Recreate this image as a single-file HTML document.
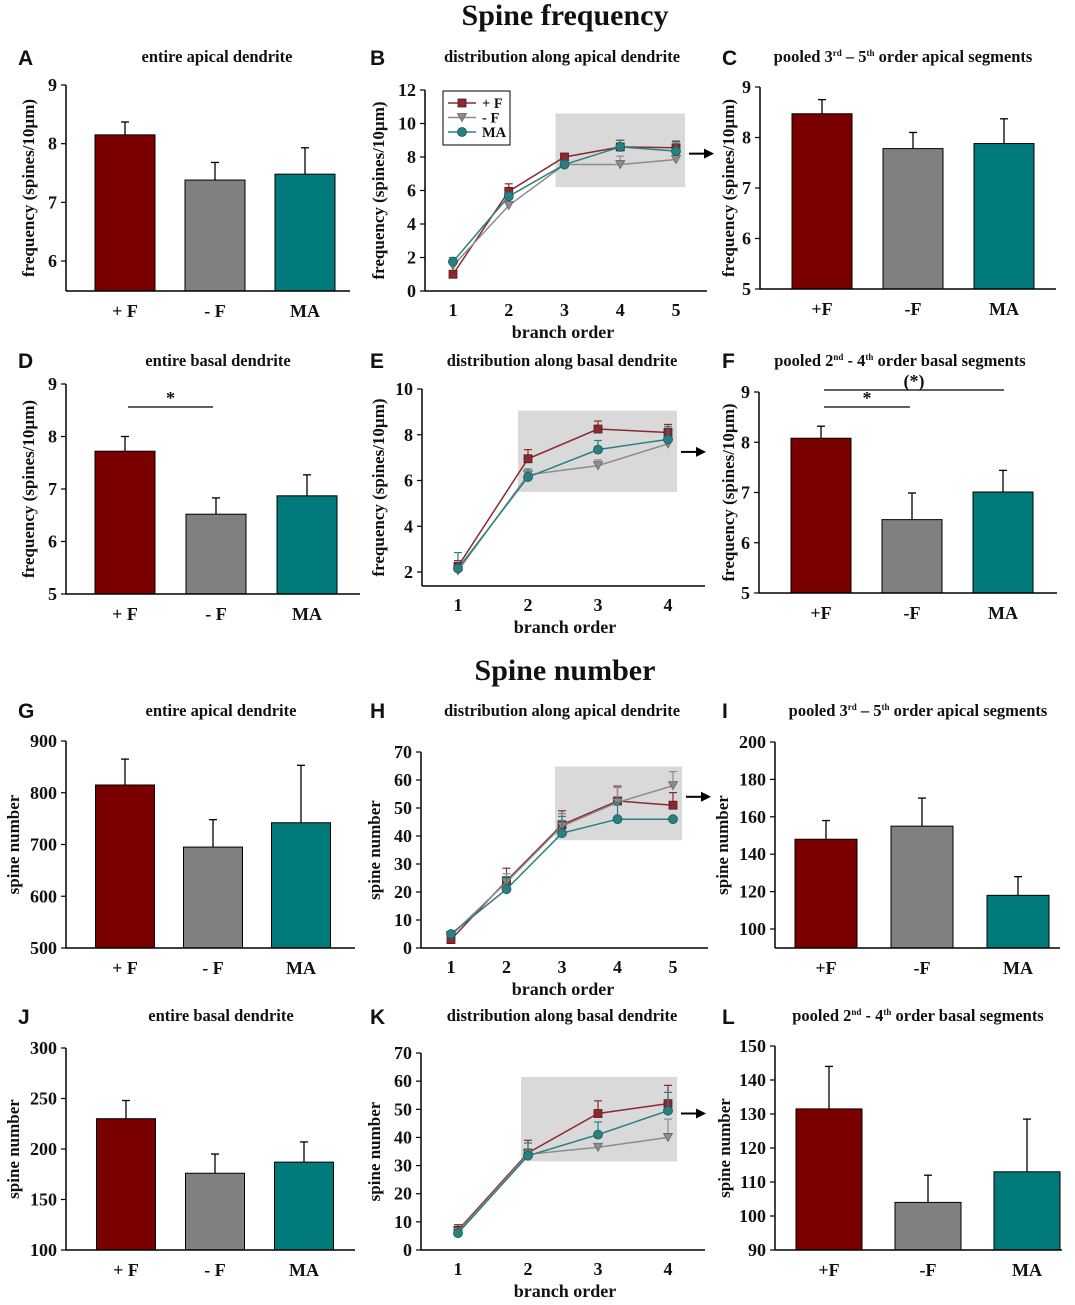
<!DOCTYPE html>
<html><head><meta charset="utf-8"><style>
body{margin:0;background:#fff;}
svg text{font-family:"Liberation Serif",serif;font-weight:bold;fill:#111;}
.lt{font-family:"Liberation Sans",sans-serif!important;}
</style></head><body>
<svg id="fig" width="1075" height="1300" xmlns="http://www.w3.org/2000/svg">
<text x="565" y="25" font-size="30" text-anchor="middle">Spine  frequency</text>
<text x="565" y="680" font-size="30" text-anchor="middle">Spine  number</text>
</svg>
<script>
// ---- data ----
const groups = ["+ F", "- F", "MA"];
const groupsShort = ["+F", "-F", "MA"];
const A_vals = [8.15, 7.38, 7.48];
const A_errs = [8.37, 7.68, 7.93];
const C_vals = [8.47, 7.78, 7.88];
const C_errs = [8.75, 8.10, 8.37];
const D_vals = [7.72, 6.52, 6.87];
const D_errs = [8.00, 6.83, 7.27];
const F_vals = [8.08, 6.46, 7.01];
const F_errs = [8.32, 6.99, 7.44];
const G_vals = [815, 695, 742];
const G_errs = [865, 748, 853];
const I_vals = [148, 155, 118];
const I_errs = [158, 170, 128];
const J_vals = [230, 176, 187];
const J_errs = [248, 195, 207];
const L_vals = [131.5, 104, 113];
const L_errs = [144, 112, 128.5];

const orders5 = [1, 2, 3, 4, 5];
const orders4 = [1, 2, 3, 4];
const B_pF = [1.0, 5.95, 8.0, 8.6, 8.55];
const B_pF_err = [1.0, 6.4, 8.15, 9.0, 8.95];
const B_mF = [1.5, 5.1, 7.55, 7.55, 7.85];
const B_mF_err = [1.5, 5.1, 7.55, 8.05, 8.1];
const B_MA = [1.75, 5.65, 7.55, 8.6, 8.35];
const B_MA_err = [2.0, 5.9, 7.75, 9.0, 8.9];
const E_pF = [2.25, 6.95, 8.25, 8.1];
const E_pF_err = [2.5, 7.35, 8.6, 8.45];
const E_mF = [2.05, 6.25, 6.65, 7.6];
const E_mF_err = [2.05, 6.25, 6.9, 7.6];
const E_MA = [2.15, 6.15, 7.35, 7.8];
const E_MA_err = [2.85, 6.5, 7.75, 8.35];
const H_pF = [3, 24, 44, 52.5, 51];
const H_pF_err = [3, 28.5, 49, 57.5, 55.5];
const H_mF = [4.5, 23.5, 43.5, 52, 58];
const H_mF_err = [4.5, 26.5, 48, 58, 63];
const H_MA = [5, 21, 41, 46, 46];
const H_MA_err = [5.5, 25.5, 47, 52, 46];
const K_pF = [7, 34.5, 48.5, 52];
const K_pF_err = [9, 39, 53, 58.5];
const K_mF = [6.5, 34, 36.5, 40];
const K_mF_err = [6.5, 36, 36.5, 46.5];
const K_MA = [6, 33.5, 41, 49.5];
const K_MA_err = [7, 38, 45.5, 56];

const colors = ["#7a0000", "#808080", "#007a7a"];
const lineColors = ["#8a2a30", "#8c8c8c", "#2a8080"];
const NS = "http://www.w3.org/2000/svg";
const svg = document.getElementById("fig");
function mk(tag, attrs, parent) {
  const e = document.createElementNS(NS, tag);
  for (const k in attrs) e.setAttribute(k, attrs[k]);
  (parent || svg).appendChild(e);
  return e;
}
function txt(x, y, s, size, anchor, parent) {
  const t = mk("text", {x: x, y: y, "font-size": size, "text-anchor": anchor || "middle"}, parent);
  t.textContent = s;
  return t;
}

function yAxis(g, ax, yScale, ticks, bottomY, topY, label, labelX) {
  const l = mk("line", {x1: ax, x2: ax, y1: bottomY, y2: topY, stroke: "#000", "stroke-width": 1.5}, g);
  
  
  ticks.forEach(v => {
    const y = yScale(v);
    mk("line", {x1: ax - 5, x2: ax, y1: y, y2: y, stroke: "#000", "stroke-width": 1.2}, g);
    const t = txt(ax - 9, y + 6, String(v), 18, "end", g);
    
    
  });
  const cy = (bottomY + topY) / 2;
  const t = mk("text", {x: labelX, y: cy, "font-size": 17, "text-anchor": "middle", transform: `rotate(-90 ${labelX} ${cy})`}, g);
  t.textContent = label;
  
  
}

function header(g, letter, lx, ly, title, tx, ty) {
  const L = txt(lx, ly, letter, 21, "start", g);
  L.setAttribute("class", "lt");
  
  
  const T = mk("text", {x: tx, y: ty, "font-size": 16.5, "text-anchor": "middle"}, g);
  T.innerHTML = title;
  
  
}

function barPanel(p, vals, errs, cats) {
  const g = mk("g", {});
  
  
  header(g, p.letter, p.lx, p.ly, p.title, p.tx, p.ty);
  const ys = v => p.yTopPx + (p.yTopV - v) * (p.yBotPx - p.yTopPx) / (p.yTopV - p.yBotV);
  const base = p.axisBotPx;
  vals.forEach((v, i) => {
    const cx = p.c0 + i * p.step;
    const e = mk("line", {x1: cx, x2: cx, y1: ys(v), y2: ys(errs[i]), stroke: "#000", "stroke-width": 1.3}, g);
    
    
    mk("line", {x1: cx - 4, x2: cx + 4, y1: ys(errs[i]), y2: ys(errs[i]), stroke: "#000", "stroke-width": 1.3}, g);
    const r = mk("rect", {x: cx - p.bw / 2, y: ys(v), width: p.bw, height: base - ys(v), fill: colors[i], stroke: "#000", "stroke-width": 1}, g);
    
    
    const t = txt(cx, base + 26, cats[i], 18, "middle", g);
    
    
  });
  const xl = mk("line", {x1: p.ax, x2: p.axR, y1: base, y2: base, stroke: "#000", "stroke-width": 1.5}, g);
  
  
  yAxis(g, p.ax, ys, p.ticks, base, ys(p.ticks[p.ticks.length - 1]), p.ylabel, p.labelX);
  (p.sig || []).forEach(s => {
    const sl = mk("line", {x1: s.x1, x2: s.x2, y1: s.y, y2: s.y, stroke: "#000", "stroke-width": 1.2}, g);
    
    
    const st = txt((s.x1 + s.x2) / 2, s.y - 3, s.label, 18, "middle", g);
    
    
  });
}

function marker(g, kind, x, y, c) {
  let m;
  if (kind === 0) m = mk("rect", {x: x - 4, y: y - 4, width: 8, height: 8, fill: c, stroke: "#5a1a1a", "stroke-width": 0.8}, g);
  else if (kind === 1) m = mk("polygon", {points: `${x - 4.5},${y - 4} ${x + 4.5},${y - 4} ${x},${y + 4}`, fill: c, stroke: "#666", "stroke-width": 0.8}, g);
  else m = mk("circle", {cx: x, cy: y, r: 4.5, fill: c, stroke: "#1a5a5a", "stroke-width": 0.8}, g);
  
  
}

function linePanel(p, xs, series, errSeries) {
  const g = mk("g", {});
  
  
  header(g, p.letter, p.lx, p.ly, p.title, p.tx, p.ty);
  const ys = v => p.yTopPx + (p.yTopV - v) * (p.yBotPx - p.yTopPx) / (p.yTopV - p.yBotV);
  const xsc = o => p.x1px + (o - 1) * (p.xNpx - p.x1px) / (xs.length - 1);
  const box = mk("rect", {x: xsc(p.boxFrom) - p.boxPad, y: ys(p.boxTop), width: xsc(xs.length) - xsc(p.boxFrom) + p.boxPad + 9, height: ys(p.boxBot) - ys(p.boxTop), fill: "#d9d9d9"}, g);
  
  
  const ay = ys(p.arrowV);
  const ar = mk("line", {x1: xsc(xs.length) + 13, x2: xsc(xs.length) + 28, y1: ay, y2: ay, stroke: "#000", "stroke-width": 2}, g);
  
  
  mk("polygon", {points: `${xsc(xs.length) + 28},${ay - 5} ${xsc(xs.length) + 38},${ay} ${xsc(xs.length) + 28},${ay + 5}`, fill: "#000"}, g);
  series.forEach((s, si) => {
    const c = lineColors[si];
    s.forEach((v, i) => {
      const x = xsc(xs[i]), e = errSeries[si][i];
      if (e > v) {
        mk("line", {x1: x, x2: x, y1: ys(v), y2: ys(e), stroke: c, "stroke-width": 1.2}, g);
        mk("line", {x1: x - 4, x2: x + 4, y1: ys(e), y2: ys(e), stroke: c, "stroke-width": 1.2}, g);
      }
    });
    const pl = mk("polyline", {points: s.map((v, i) => xsc(xs[i]) + "," + ys(v)).join(" "), fill: "none", stroke: c, "stroke-width": 1.5}, g);
    
    
    s.forEach((v, i) => marker(g, si, xsc(xs[i]), ys(v), c));
  });
  const base = p.axisBotPx;
  const xl = mk("line", {x1: p.ax, x2: p.axR, y1: base, y2: base, stroke: "#000", "stroke-width": 1.5}, g);
  
  
  xs.forEach(o => {
    const t = txt(xsc(o), base + 25, String(o), 18, "middle", g);
    
    
  });
  const xt = txt(p.xTitleX, base + 47, "branch order", 18, "middle", g);
  
  
  yAxis(g, p.ax, ys, p.ticks, base, ys(p.ticks[p.ticks.length - 1]), p.ylabel, p.labelX);
  if (p.legend) {
    const lg = mk("g", {}, g);
    
    
    mk("rect", {x: 443, y: 91, width: 67, height: 54, fill: "#fff", stroke: "#000", "stroke-width": 1}, lg);
    ["+ F", "- F", "MA"].forEach((n, i) => {
      const y = 103 + i * 14.5;
      const le = mk("line", {x1: 448, x2: 476, y1: y, y2: y, stroke: lineColors[i], "stroke-width": 1.5}, lg);
      
      
      marker(lg, i, 462, y, lineColors[i]);
      const t = mk("text", {x: 482, y: y + 5, "font-size": 14.5, "font-weight": "normal"}, lg);
      t.textContent = n;
      
      
    });
  }
}

const FREQ = "frequency (spines/10µm)";
const NUM = "spine number";
barPanel({letter: "A", lx: 18, ly: 65, title: "entire apical dendrite", tx: 217, ty: 62, ax: 66, axR: 350, c0: 125, step: 90, bw: 60,
  yTopV: 9, yBotV: 6, yTopPx: 85, yBotPx: 261, axisBotPx: 291, ticks: [6, 7, 8, 9], ylabel: FREQ, labelX: 34}, A_vals, A_errs, groups);
barPanel({letter: "C", lx: 722, ly: 65, title: "pooled 3<tspan font-size='9' dy='-6'>rd</tspan><tspan dy='6'> – 5</tspan><tspan font-size='9' dy='-6'>th</tspan><tspan dy='6'> order apical segments</tspan>", tx: 903, ty: 62,
  ax: 760, axR: 1056, c0: 822, step: 91, bw: 60, yTopV: 9, yBotV: 5, yTopPx: 87, yBotPx: 289, axisBotPx: 289, ticks: [5, 6, 7, 8, 9], ylabel: FREQ, labelX: 734}, C_vals, C_errs, groupsShort);
barPanel({letter: "D", lx: 18, ly: 368, title: "entire basal dendrite", tx: 218, ty: 366, ax: 66, axR: 360, c0: 125, step: 91, bw: 60,
  yTopV: 9, yBotV: 5, yTopPx: 384, yBotPx: 594, axisBotPx: 594, ticks: [5, 6, 7, 8, 9], ylabel: FREQ, labelX: 34,
  sig: [{x1: 128, x2: 213, y: 407, label: "*"}]}, D_vals, D_errs, groups);
barPanel({letter: "F", lx: 722, ly: 368, title: "pooled 2<tspan font-size='9' dy='-6'>nd</tspan><tspan dy='6'> - 4</tspan><tspan font-size='9' dy='-6'>th</tspan><tspan dy='6'> order basal segments</tspan>", tx: 900, ty: 366,
  ax: 759, axR: 1057, c0: 821, step: 91, bw: 60, yTopV: 9, yBotV: 5, yTopPx: 392, yBotPx: 593, axisBotPx: 593, ticks: [5, 6, 7, 8, 9], ylabel: FREQ, labelX: 734,
  sig: [{x1: 824, x2: 1004, y: 390, label: "(*)"}, {x1: 824, x2: 910, y: 407, label: "*"}]}, F_vals, F_errs, groupsShort);
barPanel({letter: "G", lx: 18, ly: 718, title: "entire apical dendrite", tx: 221, ty: 716, ax: 66, axR: 355, c0: 125, step: 88, bw: 59,
  yTopV: 900, yBotV: 500, yTopPx: 741, yBotPx: 948, axisBotPx: 948, ticks: [500, 600, 700, 800, 900], ylabel: NUM, labelX: 19}, G_vals, G_errs, groups);
barPanel({letter: "I", lx: 722, ly: 718, title: "pooled 3<tspan font-size='9' dy='-6'>rd</tspan><tspan dy='6'> – 5</tspan><tspan font-size='9' dy='-6'>th</tspan><tspan dy='6'> order apical segments</tspan>", tx: 918, ty: 716,
  ax: 775, axR: 1060, c0: 826, step: 96, bw: 62, yTopV: 200, yBotV: 100, yTopPx: 742, yBotPx: 929, axisBotPx: 948, ticks: [100, 120, 140, 160, 180, 200], ylabel: NUM, labelX: 728}, I_vals, I_errs, groupsShort);
barPanel({letter: "J", lx: 18, ly: 1024, title: "entire basal dendrite", tx: 221, ty: 1021, ax: 66, axR: 355, c0: 126, step: 89, bw: 59,
  yTopV: 300, yBotV: 100, yTopPx: 1048, yBotPx: 1250, axisBotPx: 1250, ticks: [100, 150, 200, 250, 300], ylabel: NUM, labelX: 19}, J_vals, J_errs, groups);
barPanel({letter: "L", lx: 722, ly: 1024, title: "pooled 2<tspan font-size='9' dy='-6'>nd</tspan><tspan dy='6'> - 4</tspan><tspan font-size='9' dy='-6'>th</tspan><tspan dy='6'> order basal segments</tspan>", tx: 918, ty: 1021,
  ax: 775, axR: 1062, c0: 829, step: 99, bw: 66, yTopV: 150, yBotV: 90, yTopPx: 1046, yBotPx: 1250, axisBotPx: 1250, ticks: [90, 100, 110, 120, 130, 140, 150], ylabel: NUM, labelX: 730}, L_vals, L_errs, groupsShort);

linePanel({letter: "B", lx: 370, ly: 65, title: "distribution along apical dendrite", tx: 562, ty: 62, ax: 425, axR: 707, x1px: 453, xNpx: 676,
  yTopV: 12, yBotV: 0, yTopPx: 90, yBotPx: 291, axisBotPx: 291, ticks: [0, 2, 4, 6, 8, 10, 12], ylabel: FREQ, labelX: 384, xTitleX: 563,
  boxFrom: 3, boxPad: 9, boxTop: 10.6, boxBot: 6.2, arrowV: 8.2, legend: true}, orders5, [B_pF, B_mF, B_MA], [B_pF_err, B_mF_err, B_MA_err]);
linePanel({letter: "E", lx: 370, ly: 368, title: "distribution along basal dendrite", tx: 562, ty: 366, ax: 422, axR: 705, x1px: 458, xNpx: 668,
  yTopV: 10, yBotV: 2, yTopPx: 389, yBotPx: 572, axisBotPx: 586, ticks: [2, 4, 6, 8, 10], ylabel: FREQ, labelX: 384, xTitleX: 565,
  boxFrom: 2, boxPad: 10, boxTop: 9.05, boxBot: 5.5, arrowV: 7.25}, orders4, [E_pF, E_mF, E_MA], [E_pF_err, E_mF_err, E_MA_err]);
linePanel({letter: "H", lx: 370, ly: 718, title: "distribution along apical dendrite", tx: 562, ty: 716, ax: 421, axR: 708, x1px: 451, xNpx: 673,
  yTopV: 70, yBotV: 0, yTopPx: 752, yBotPx: 948, axisBotPx: 948, ticks: [0, 10, 20, 30, 40, 50, 60, 70], ylabel: NUM, labelX: 380, xTitleX: 563,
  boxFrom: 3, boxPad: 7, boxTop: 64.8, boxBot: 38.5, arrowV: 54}, orders5, [H_pF, H_mF, H_MA], [H_pF_err, H_mF_err, H_MA_err]);
linePanel({letter: "K", lx: 370, ly: 1024, title: "distribution along basal dendrite", tx: 562, ty: 1021, ax: 421, axR: 705, x1px: 458, xNpx: 668,
  yTopV: 70, yBotV: 0, yTopPx: 1053, yBotPx: 1250, axisBotPx: 1250, ticks: [0, 10, 20, 30, 40, 50, 60, 70], ylabel: NUM, labelX: 380, xTitleX: 565,
  boxFrom: 2, boxPad: 7, boxTop: 61.5, boxBot: 31.5, arrowV: 48.5}, orders4, [K_pF, K_mF, K_MA], [K_pF_err, K_mF_err, K_MA_err]);
</script>
</body></html>
